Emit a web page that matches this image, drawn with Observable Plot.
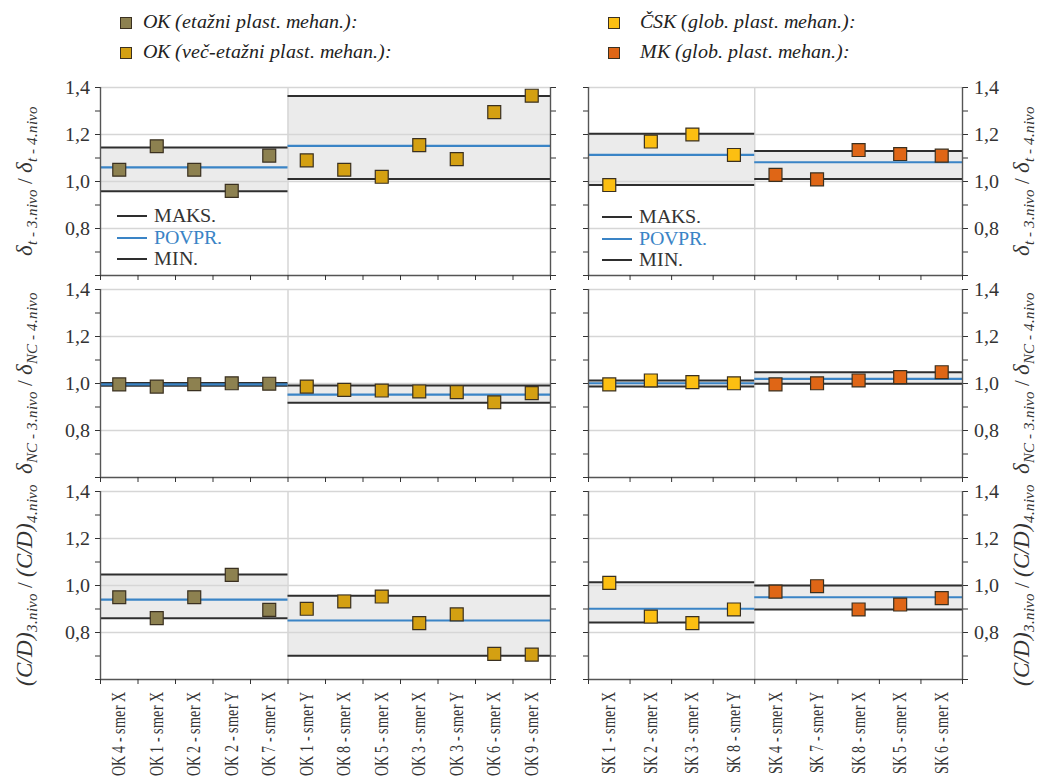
<!DOCTYPE html>
<html><head><meta charset="utf-8">
<script src="https://cdn.jsdelivr.net/npm/d3@7"></script>
<script src="https://cdn.jsdelivr.net/npm/@observablehq/plot@0.6"></script>
<style>
@font-face{font-family:"RefSerif";src:local("Liberation Serif"),local("LiberationSerif");font-style:normal;font-weight:400;}
@font-face{font-family:"RefSerif";src:local("Liberation Serif Italic"),local("LiberationSerif-Italic");font-style:italic;font-weight:400;}
body{margin:0;background:#fff;font-family:'Liberation Serif';}
#figwrap{position:relative;width:1044px;height:783px;overflow:hidden;color:#222;}
#figwrap, #figwrap *, #figwrap svg text{font-family:RefSerif,'Liberation Serif',Tinos,serif !important;}
.leg-sq{position:absolute;width:10px;height:10px;border:1px solid #3a3020;}
.leg-tx{position:absolute;font-style:italic;font-size:19.5px;line-height:20px;white-space:nowrap;color:#222;}
.ylab{position:absolute;transform:translate(-50%,-50%) rotate(-90deg);white-space:nowrap;font-size:23px;font-style:italic;color:#333;}
.ylab .sub{font-size:15px;position:relative;top:5px;}
.ylab .sl{font-style:normal;font-size:21px;}
.ilg-line{position:absolute;width:30px;height:2px;}
.ilg-tx{position:absolute;font-size:19.5px;line-height:20px;white-space:nowrap;}
.pl{position:absolute;}
</style>
</head><body><div id="figwrap"></div>
<script>
// ---------- categories ----------
const okCats = ["OK 4 - smer X", "OK 1 - smer X", "OK 2 - smer X", "OK 2 - smer Y", "OK 7 - smer X"];
const okMultiCats = ["OK 1 - smer Y", "OK 8 - smer X", "OK 5 - smer X", "OK 3 - smer X", "OK 3 - smer Y", "OK 6 - smer X", "OK 9 - smer X"];
const cskCats = ["SK 1 - smer X", "SK 2 - smer X", "SK 3 - smer X", "SK 8 - smer Y"];
const mkCats = ["SK 4 - smer X", "SK 7 - smer Y", "SK 8 - smer X", "SK 5 - smer X", "SK 6 - smer X"];

// ---------- row 1: drift ratio ----------
const okDrift = [1.05, 1.15, 1.05, 0.96, 1.11];
const okMultiDrift = [1.09, 1.05, 1.02, 1.155, 1.095, 1.295, 1.365];
const cskDrift = [0.985, 1.17, 1.20, 1.113];
const mkDrift = [1.028, 1.009, 1.134, 1.117, 1.110];
// [MAKS., POVPR., MIN.]
const okDriftStats = [1.145, 1.06, 0.958];
const okMultiDriftStats = [1.364, 1.152, 1.011];
const cskDriftStats = [1.203, 1.113, 0.985];
const mkDriftStats = [1.13, 1.082, 1.011];

// ---------- row 2: NC displacement ratio ----------
const okNC = [0.996, 0.987, 0.997, 1.001, 0.999];
const okMultiNC = [0.987, 0.973, 0.970, 0.966, 0.963, 0.920, 0.959];
const cskNC = [0.996, 1.013, 1.006, 1.001];
const mkNC = [0.996, 1.001, 1.013, 1.027, 1.048];
const okNCStats = [1.002, 0.996, 0.99];
const okMultiNCStats = [0.991, 0.953, 0.918];
const cskNCStats = [1.013, 1.001, 0.987];
const mkNCStats = [1.048, 1.02, 0.999];

// ---------- row 3: C/D ratio ----------
const okCD = [0.950, 0.861, 0.950, 1.045, 0.896];
const okMultiCD = [0.901, 0.932, 0.953, 0.840, 0.877, 0.709, 0.706];
const cskCD = [1.011, 0.868, 0.840, 0.898];
const mkCD = [0.974, 0.997, 0.898, 0.919, 0.946];
const okCDStats = [1.047, 0.940, 0.861];
const okMultiCDStats = [0.956, 0.851, 0.701];
const cskCDStats = [1.014, 0.901, 0.843];
const mkCDStats = [1.0, 0.950, 0.898];

// ---------- axis ticks ----------
const yTicks = [0.6, 0.7, 0.8, 0.9, 1.0, 1.1, 1.2, 1.3, 1.4];
const yLabeled = [0.8, 1.0, 1.2, 1.4];
const yGrid = [0.8, 1.0, 1.2, 1.4];

// ---------- legend texts ----------
const seriesNames = ["OK (etažni plast. mehan.):", "OK (več-etažni plast. mehan.):", "ČSK (glob. plast. mehan.):", "MK (glob. plast. mehan.):"];
const seriesColors = ["#8d8150", "#d4a012", "#fcbf12", "#df6616"];
const statNames = ["MAKS.", "POVPR.", "MIN."];

// y-axis titles: [main, sub, main, sub]
const yTitles = [
  ["δ", "t - 3.nivo", "δ", "t - 4.nivo"],
  ["δ", "NC - 3.nivo", "δ", "NC - 4.nivo"],
  ["(C/D)", "3.nivo", "(C/D)", "4.nivo"]
];

const rows = [
  {left: [okDrift, okMultiDrift], leftStats: [okDriftStats, okMultiDriftStats], right: [cskDrift, mkDrift], rightStats: [cskDriftStats, mkDriftStats]},
  {left: [okNC, okMultiNC], leftStats: [okNCStats, okMultiNCStats], right: [cskNC, mkNC], rightStats: [cskNCStats, mkNCStats]},
  {left: [okCD, okMultiCD], leftStats: [okCDStats, okMultiCDStats], right: [cskCD, mkCD], rightStats: [cskCDStats, mkCDStats]}
];

const leftGroups = [{cats: okCats, color: seriesColors[0]}, {cats: okMultiCats, color: seriesColors[1]}];
const rightGroups = [{cats: cskCats, color: seriesColors[2]}, {cats: mkCats, color: seriesColors[3]}];

const FONT = "RefSerif, 'Liberation Serif', Tinos, serif";
const fig = document.getElementById("figwrap");
const fmt = d => yLabeled.includes(d) ? d.toFixed(1).replace(".", ",") : "";
const blank = () => "";
const BLUE = "#3a84c6", DARK = "#2e2e2e";
const setFont = el => el.style.setProperty("font-family", FONT, "important");

const panelTops = [87, 289, 491];
const PANEL_H = 188;

function panel(groups, valueSets, statSets, side, isBottom) {
  const cats = groups.flatMap(g => g.cats);
  const n = cats.length;
  const points = [], bands = [], lines = [];
  let off = 0;
  groups.forEach((g, gi) => {
    const len = g.cats.length;
    g.cats.forEach((c, i) => points.push({pos: off + i + 0.5, value: valueSets[gi][i], color: g.color}));
    const [mx, av, mn] = statSets[gi];
    bands.push({a: off, b: off + len, lo: mn, hi: mx});
    lines.push({a: off, b: off + len, v: mx, k: "max"}, {a: off, b: off + len, v: mn, k: "min"}, {a: off, b: off + len, v: av, k: "avg"});
    off += len;
  });
  const divider = groups[0].cats.length;
  const isLeft = side === "left";
  const W = isLeft ? 560 : 484;
  const ml = isLeft ? 100 : 28, mr = isLeft ? 10 : 82;
  const mt = 12, mb = isBottom ? 104 : 8;
  const marks = [
    Plot.rect(bands, {x1: "a", x2: "b", y1: "lo", y2: "hi", fill: "#ebebeb"}),
    Plot.ruleY(yGrid, {stroke: "#d6d6d6", strokeWidth: 1.3}),
    Plot.ruleX([divider], {stroke: "#d6d6d6", strokeWidth: 1.5}),
    Plot.ruleY(lines.filter(d => d.k !== "avg"), {y: "v", x1: "a", x2: "b", stroke: DARK, strokeWidth: 2}),
    Plot.ruleY(lines.filter(d => d.k === "avg"), {y: "v", x1: "a", x2: "b", stroke: BLUE, strokeWidth: 2.2}),
    Plot.dot(points, {x: "pos", y: "value", symbol: "square", r: 7.3, fill: "color", stroke: "#3a3020", strokeWidth: 1.2}),
    Plot.ruleX([0, n], {stroke: "#555", strokeWidth: 1.4}),
    Plot.ruleY([0.6], {stroke: "#555", strokeWidth: 1.4}),
    Plot.axisY(yTicks, {anchor: "left", tickSize: 5, tickPadding: 6, tickFormat: isLeft ? fmt : blank, fontSize: 20, label: null}),
    Plot.axisY(yTicks, {anchor: "right", tickSize: 5, tickPadding: 6, tickFormat: isLeft ? blank : fmt, fontSize: 20, label: null}),
    Plot.axisX(d3.range(n + 1), {anchor: "bottom", tickSize: 5, tickFormat: blank, label: null})
  ];
  if (isBottom) {
    marks.push(Plot.axisX(cats.map((c, i) => i + 0.5), {anchor: "bottom", tickSize: 0, tickPadding: 12, tickRotate: -90, tickFormat: d => cats[Math.floor(d)], fontSize: 19, label: null}));
  }
  const svg = Plot.plot({
    width: W, height: mt + PANEL_H + mb,
    marginLeft: ml, marginRight: mr, marginTop: mt, marginBottom: mb,
    x: {domain: [0, n], label: null},
    y: {domain: [0.6, 1.4], label: null},
    color: {type: "identity"},
    style: {fontSize: "20px", color: "#333", background: "transparent", overflow: "visible"},
    marks
  });
  svg.setAttribute("font-family", "Liberation Serif");
  setFont(svg);
  d3.select(svg).selectAll("g, text").each(function() {
    this.removeAttribute("font-family");
    setFont(this);
    if (this.tagName === "text") {
      const tr = this.getAttribute("transform") || "";
      if (tr.includes("rotate(-90)")) this.setAttribute("transform", tr + " scale(0.74,1)");
    }
  });
  return {svg, mt};
}

rows.forEach((r, ri) => {
  const isBottom = ri === rows.length - 1;
  [["left", leftGroups, r.left, r.leftStats, 0], ["right", rightGroups, r.right, r.rightStats, 560]].forEach(([side, groups, vals, stats, x0]) => {
    const {svg, mt} = panel(groups, vals, stats, side, isBottom);
    const wrap = document.createElement("div");
    wrap.className = "pl";
    wrap.style.left = x0 + "px";
    wrap.style.top = (panelTops[ri] - mt) + "px";
    wrap.appendChild(svg);
    fig.appendChild(wrap);
  });
  [25, 1022].forEach(cx => {
    const t = yTitles[ri];
    const d = document.createElement("div");
    d.className = "ylab";
    d.style.left = cx + "px";
    d.style.top = (panelTops[ri] + PANEL_H / 2) + "px";
    d.innerHTML = `${t[0]}<span class="sub">${t[1]}</span><span class="sl"> / </span>${t[2]}<span class="sub">${t[3]}</span>`;
    setFont(d);
    d.querySelectorAll("span").forEach(setFont);
    fig.appendChild(d);
  });
});

const legPos = [[120, 143, 12], [120, 143, 42], [608, 640, 12], [608, 640, 42]];
seriesNames.forEach((name, i) => {
  const [sx, tx, ty] = legPos[i];
  const sq = document.createElement("div");
  sq.className = "leg-sq";
  sq.style.left = sx + "px"; sq.style.top = (ty + 5) + "px";
  sq.style.background = seriesColors[i];
  fig.appendChild(sq);
  const t = document.createElement("div");
  t.className = "leg-tx";
  t.style.left = tx + "px"; t.style.top = ty + "px";
  t.textContent = name;
  setFont(t);
  fig.appendChild(t);
});

[[117, 154, 216], [602, 639, 217]].forEach(([lx, tx, y0]) => {
  statNames.forEach((s, i) => {
    const y = y0 + i * 21.5;
    const l = document.createElement("div");
    l.className = "ilg-line";
    l.style.left = lx + "px"; l.style.top = (y - 1) + "px";
    l.style.background = i === 1 ? BLUE : DARK;
    fig.appendChild(l);
    const t = document.createElement("div");
    t.className = "ilg-tx";
    t.style.left = tx + "px"; t.style.top = (y - 10) + "px";
    t.style.color = i === 1 ? BLUE : "#333";
    t.textContent = s;
    setFont(t);
    fig.appendChild(t);
  });
});
</script>
</body></html>
